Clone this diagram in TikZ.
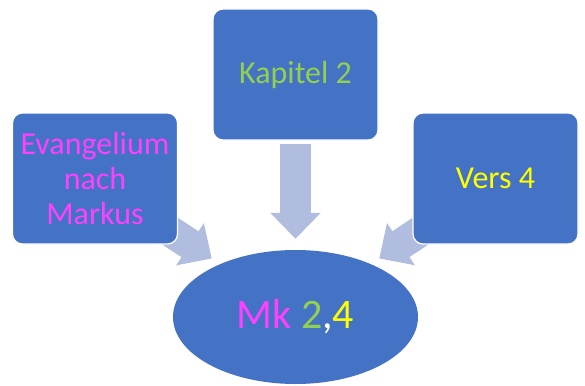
\documentclass[tikz,border=0pt]{standalone}
\usepackage{fontspec}
\setmainfont{Carlito}
\usetikzlibrary{positioning,calc,arrows.meta,shapes.geometric,backgrounds}
\definecolor{BoxBlue}{RGB}{68,114,196}
\definecolor{FeedBlue}{RGB}{176,189,223}
\definecolor{TxtMagenta}{RGB}{255,64,255}
\definecolor{TxtGreen}{RGB}{146,208,80}
\definecolor{TxtYellow}{RGB}{255,255,0}

\begin{document}
\begin{tikzpicture}[
    x=1pt, y=-1pt,
    box/.style={
        draw=white,
        line width=1.2pt,
        fill=BoxBlue,
        rounded corners=10pt,
        minimum width=165pt,
        minimum height=131pt,
        inner sep=0pt,
        align=center,
        font=\fontsize{32}{35}\selectfont
    },
    hub/.style={
        ellipse,
        fill=BoxBlue,
        minimum width=245pt,
        minimum height=134pt,
        inner sep=0pt,
        font=\fontsize{42}{48}\selectfont
    },
    feed/.style={
        draw=FeedBlue,
        line width=31pt,
        -{Triangle[length=26pt,width=49pt]}
    }
]

\useasboundingbox (0,0) rectangle (585,385);

% parts of the reference
\node[box, text=TxtMagenta] (evang) at (95,178.5) {Evangelium\\nach\\Markus};
\node[box, text=TxtGreen]   (kap)   at (295.5,74.5) {Kapitel 2};
\node[box, text=TxtYellow]  (vers)  at (495.5,178.5) {Vers 4};

% result
\node[hub] (mk) at (295.5,317) {\textcolor{TxtMagenta}{Mk} \textcolor{TxtGreen}{2}\textcolor{white}{,}\textcolor{TxtYellow}{4}};

% block arrows
\begin{scope}[on background layer]
\draw[feed] ([yshift=-3pt]kap.south) -- ([yshift=11pt]mk.north);
\draw[feed] ([shift={(-15,-18)}]evang.south east) -- ([shift={(3,-11)}]mk.north west);
\draw[feed] ([shift={(15,-18)}]vers.south west) -- ([shift={(-3,-11)}]mk.north east);
\end{scope}

\end{tikzpicture}
\end{document}
